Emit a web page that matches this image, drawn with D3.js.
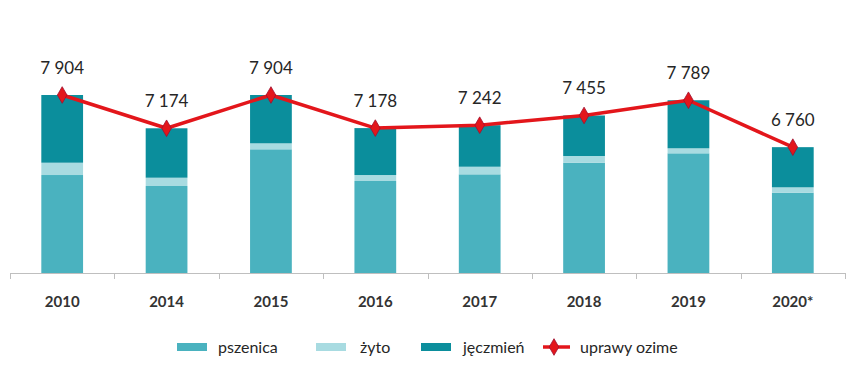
<!DOCTYPE html>
<html>
<head>
<meta charset="utf-8">
<script src="https://cdn.jsdelivr.net/npm/d3@7"></script>
<style>
body { margin: 0; background: #fff; }
svg { font-family: Lato, "Liberation Sans", sans-serif; }
</style>
</head>
<body>
<svg id="chart" width="850" height="376"></svg>
<script>
// lata
var years = ["2010", "2014", "2015", "2016", "2017", "2018", "2019", "2020*"];
// wartości (oś nie zaczyna się od zera)
var pszenica = [6149, 5908, 6713, 6018, 6164, 6419, 6625, 5761];
var zyto = [270, 182, 131, 131, 167, 147, 110, 118];
var jeczmien = [1485, 1084, 1060, 1029, 911, 889, 1054, 881];
var uprawyOzime = [7904, 7174, 7904, 7178, 7242, 7455, 7789, 6760];
var seriesNames = ["pszenica", "żyto", "jęczmień"];
var colors = ["#4ab2bf", "#a8dbe1", "#0b8e9c"];
var lineColor = "#e3161b";

var svg = d3.select("#chart");
var x0 = 10, x1 = 845, baseY = 273, yMin = 4000;

var x = d3.scaleBand().domain(years).range([x0, x1]).paddingInner(0.6).paddingOuter(0.3);
var xb = d3.scaleBand().domain(years).range([x0, x1]);
var y = d3.scaleLinear().domain([yMin, 7904]).range([baseY, 95]);

var rows = years.map(function(yr, i) {
  return { year: yr, "pszenica": pszenica[i], "żyto": zyto[i], "jęczmień": jeczmien[i] };
});
var stack = d3.stack().keys(seriesNames)
  .offset(function(series, order) {
    // pierwsza warstwa zaczyna się od początku osi
    for (var j = 0; j < series[0].length; j++) {
      var v = yMin;
      for (var k = 0; k < order.length; k++) {
        var s = series[order[k]][j];
        var h = s[1] - s[0];
        if (k === 0) { s[0] = yMin; v = s[1]; }
        else { s[0] = v; s[1] = v + h; v = s[1]; }
      }
    }
  });
var stacked = stack(rows);

svg.append("g").selectAll("g").data(stacked).enter().append("g")
  .attr("fill", function(d, i) { return colors[i]; })
  .selectAll("rect").data(function(d) { return d; }).enter().append("rect")
  .attr("x", function(d) { return x(d.data.year); })
  .attr("width", x.bandwidth())
  .attr("y", function(d) { return y(d[1]); })
  .attr("height", function(d) { return y(d[0]) - y(d[1]); });

// oś X
var axis = svg.append("g");
axis.append("line").attr("x1", x0).attr("x2", x1).attr("y1", baseY + 0.5).attr("y2", baseY + 0.5)
  .attr("stroke", "#bfbfbf").attr("stroke-width", 1);
var ticks = years.map(function(d) { return xb(d); }).concat([x1]);
axis.selectAll("line.tick").data(ticks).enter().append("line").attr("class", "tick")
  .attr("x1", function(d) { return Math.round(d) + 0.5; })
  .attr("x2", function(d) { return Math.round(d) + 0.5; })
  .attr("y1", baseY).attr("y2", baseY + 6)
  .attr("stroke", "#bfbfbf");
axis.selectAll("text").data(years).enter().append("text")
  .attr("x", function(d) { return x(d) + x.bandwidth() / 2; })
  .attr("y", 307)
  .attr("text-anchor", "middle")
  .attr("font-size", 15).attr("font-weight", "bold")
  .attr("fill", "#333")
  .text(function(d) { return d; });

// linia uprawy ozime
var cx = function(d, i) { return x(years[i]) + x.bandwidth() / 2; };
var line = d3.line().x(cx).y(function(d) { return y(d); });
svg.append("path").datum(uprawyOzime)
  .attr("d", line).attr("fill", "none")
  .attr("stroke", lineColor).attr("stroke-width", 3.5).attr("stroke-linejoin", "round");
var diamond = d3.symbol().type(d3.symbolDiamond).size(80);
svg.selectAll("path.pt").data(uprawyOzime).enter().append("path").attr("class", "pt")
  .attr("d", diamond)
  .attr("transform", function(d, i) { return "translate(" + cx(d, i) + "," + y(d) + ")"; })
  .attr("fill", lineColor).attr("stroke", "#9e1030").attr("stroke-width", 0.8);

var fmt = function(v) { return d3.format(",")(v).replace(",", " "); };
svg.selectAll("text.lbl").data(uprawyOzime).enter().append("text").attr("class", "lbl")
  .attr("x", cx)
  .attr("y", function(d) { return y(d) - 21; })
  .attr("text-anchor", "middle")
  .attr("font-size", 17).attr("fill", "#262626")
  .text(fmt);

// legenda
var leg = svg.append("g");
var items = [
  { name: "pszenica", sx: 177, tx: 218 },
  { name: "żyto", sx: 316, tx: 360 },
  { name: "jęczmień", sx: 421, tx: 463 }
];
items.forEach(function(it, i) {
  leg.append("rect").attr("x", it.sx).attr("y", 343).attr("width", 30).attr("height", 8).attr("fill", colors[i]);
  leg.append("text").attr("x", it.tx).attr("y", 353).attr("font-size", 16).attr("fill", "#262626").text(it.name);
});
leg.append("line").attr("x1", 543).attr("x2", 570).attr("y1", 347).attr("y2", 347)
  .attr("stroke", lineColor).attr("stroke-width", 3.5);
leg.append("path").attr("d", diamond).attr("transform", "translate(554,347)")
  .attr("fill", lineColor).attr("stroke", "#9e1030").attr("stroke-width", 0.8);
leg.append("text").attr("x", 580).attr("y", 353).attr("font-size", 16).attr("fill", "#262626").text("uprawy ozime");
</script>
</body>
</html>
